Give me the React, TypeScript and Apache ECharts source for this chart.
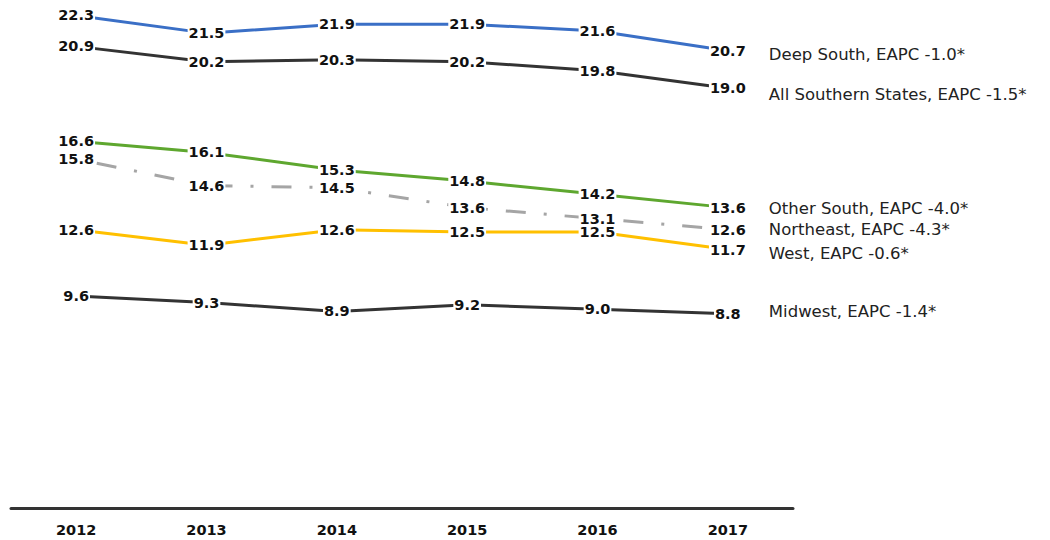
import React, { useEffect, useRef } from "react";
import * as echarts from "echarts";

const years = ["2012", "2013", "2014", "2015", "2016", "2017"];
const deepSouth = [22.3, 21.5, 21.9, 21.9, 21.6, 20.7];
const allSouthern = [20.9, 20.2, 20.3, 20.2, 19.8, 19.0];
const otherSouth = [16.6, 16.1, 15.3, 14.8, 14.2, 13.6];
const northeast = [15.8, 14.6, 14.5, 13.6, 13.1, 12.6];
const west = [12.6, 11.9, 12.6, 12.5, 12.5, 11.7];
const midwest = [9.6, 9.3, 8.9, 9.2, 9.0, 8.8];
const seriesNames = [
  "Deep South, EAPC -1.0*",
  "All Southern States, EAPC -1.5*",
  "Other South, EAPC -4.0*",
  "Northeast, EAPC -4.3*",
  "West, EAPC -0.6*",
  "Midwest, EAPC -1.4*",
];

export default function App() {
  const ref = useRef<HTMLDivElement>(null);
  useEffect(() => {
    document.body.style.margin = "0";
    const chart = echarts.init(ref.current!, null, { renderer: "svg" });
    const mk = (
      name: string,
      data: number[],
      color: string,
      dy: number,
      lineType: any = "solid"
    ) => ({
      name,
      type: "line",
      data,
      symbol: "circle",
      symbolSize: 1,
      showSymbol: true,
      itemStyle: { color: "rgba(0,0,0,0)", borderWidth: 0 },
      lineStyle: { color, width: 3, type: lineType, cap: "butt" },
      label: {
        show: true,
        position: "inside",
        formatter: (p: any) => p.value.toFixed(1),
        color: "#111",
        fontFamily: "DejaVu Sans",
        fontWeight: "bold",
        fontSize: 14.5,
        lineHeight: 13,
        backgroundColor: "#fff",
        padding: [0, 1, 0, 1],
      },
      endLabel: {
        show: true,
        formatter: name,
        distance: 41,
        offset: [0, dy],
        color: "#222",
        fontFamily: "DejaVu Sans",
        fontWeight: "normal",
        fontSize: 16.5,
      },
      emphasis: { disabled: true },
    });
    chart.setOption({
      animation: false,
      backgroundColor: "#fff",
      grid: { left: 11, right: 257, top: 0, bottom: 32 },
      xAxis: {
        type: "category",
        data: years,
        boundaryGap: true,
        axisLine: { lineStyle: { color: "#333", width: 3 } },
        axisTick: { show: false },
        axisLabel: {
          color: "#111",
          fontFamily: "DejaVu Sans",
          fontWeight: "bold",
          fontSize: 14.5,
          margin: 14,
        },
      },
      yAxis: {
        type: "value",
        min: 0,
        max: 23,
        show: false,
        splitLine: { show: false },
      },
      series: [
        mk(seriesNames[0], deepSouth, "#3a6fc6", 4),
        mk(seriesNames[1], allSouthern, "#333333", 6),
        mk(seriesNames[2], otherSouth, "#5ea72f", 1),
        mk(seriesNames[3], northeast, "#a5a5a5", 0, [3, 18, 20, 18]),
        mk(seriesNames[4], west, "#ffc000", 4),
        mk(seriesNames[5], midwest, "#333333", -2),
      ],
    });
    return () => chart.dispose();
  }, []);
  return <div ref={ref} style={{ width: 1050, height: 540 }} />;
}
